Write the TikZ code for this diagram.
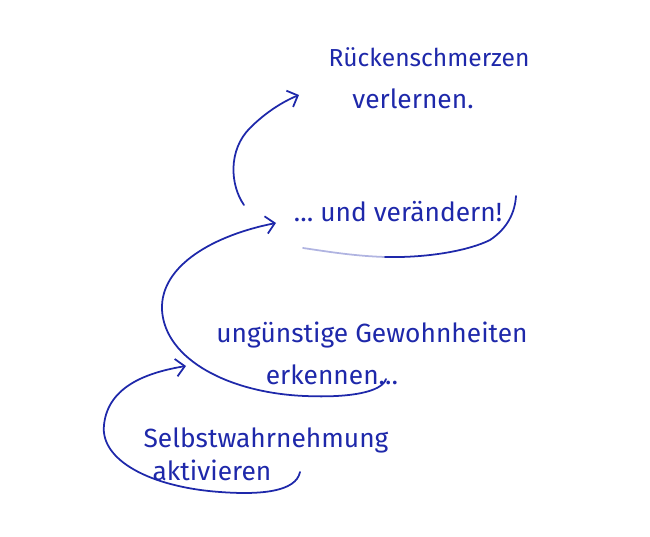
\documentclass[tikz,border=0pt]{standalone}
\usepackage{fontspec}
\setmainfont{Fira Sans}
\usetikzlibrary{arrows.meta}
\definecolor{ink}{RGB}{30,40,170}
\tikzset{
  words/.style={text=ink, font=\fontsize{15}{18}\selectfont, inner sep=0pt},
  pen/.style={draw=ink, line width=1pt, line cap=round},
  loop/.style={pen, -{Straight Barb[length=5pt,width=10pt]}}
}

\begin{document}
\begin{tikzpicture}[x=0.02cm,y=-0.02cm]
\useasboundingbox (0,0) rectangle (650,537);
% texts
\node [words, font=\fontsize{14}{17}\selectfont] (ruecken) at (429,57) {Rückenschmerzen};
\node [words] (verlernen) at (413,99) {verlernen.};
\node [words] (veraendern) at (398,212) {\ldots\ und verändern!};
\node [words] (gewohn) at (372,335) {ungünstige Gewohnheiten};
\node [words] (erkennen) at (332,375) {erkennen\ldots};
\node [words] (selbst) at (266,440) {Selbstwahrnehmung};
\node [words] (aktiv) at (212,470) {aktivieren};
% ends of the strokes
\coordinate (s1) at (300,472);
\coordinate (t1) at (186,366);
\coordinate (s2) at (386,379);
\coordinate (t2) at (276,223);
\coordinate (u1) at (303,248);
\coordinate (u2) at (385,257);
\coordinate (u3) at (516,196);
\coordinate (s4) at (244,205);
\coordinate (t4) at (299,95);
% loops
\draw [loop] (s1) .. controls (296,492) and (260,495) .. (220,492)
  .. controls (150,487) and (100,460) .. (104,425)
  .. controls (108,385) and (150,372) .. (t1);
\draw [loop] (s2) .. controls (382,392) and (350,398) .. (305,396)
  .. controls (230,393) and (165,360) .. (162,310)
  .. controls (160,265) and (215,235) .. (t2);
\draw [loop] (s4) .. controls (230,185) and (228,150) .. (250,128)
  .. controls (265,113) and (282,102) .. (t4);
% underline
\draw [pen, opacity=.35] (u1) .. controls (330,252) and (355,256) .. (u2);
\draw [pen] (u2) .. controls (430,258) and (470,250) .. (490,240)
  .. controls (508,228) and (515,212) .. (u3);
\end{tikzpicture}
\end{document}
